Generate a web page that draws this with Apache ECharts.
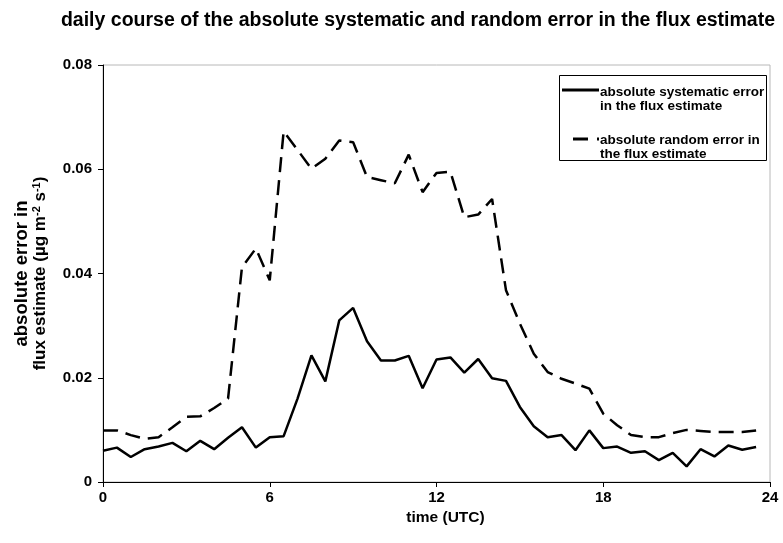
<!DOCTYPE html>
<html>
<head>
<meta charset="utf-8">
<script src="https://cdn.jsdelivr.net/npm/echarts@6/dist/echarts.min.js"></script>
<style>
html,body{margin:0;padding:0;background:#fff;}
#chart{width:783px;height:543px;}
</style>
</head>
<body>
<div id="chart"></div>
<script>
// time of day (UTC), half-hourly
var times = [0,0.5,1,1.5,2,2.5,3,3.5,4,4.5,5,5.5,6,6.5,7,7.5,8,8.5,9,9.5,10,10.5,11,11.5,
             12,12.5,13,13.5,14,14.5,15,15.5,16,16.5,17,17.5,18,18.5,19,19.5,20,20.5,21,21.5,22,22.5,23,23.5];
var systematicError = [0.0060,0.0066,0.0048,0.0063,0.0068,0.0075,0.0059,0.0079,0.0063,0.0085,
                       0.0105,0.0066,0.0086,0.0088,0.0160,0.0243,0.0193,0.0310,0.0334,0.0270,
                       0.0233,0.0233,0.0242,0.0180,0.0235,0.0239,0.0210,0.0236,0.0199,0.0194,
                       0.0144,0.0107,0.0086,0.0090,0.0061,0.0099,0.0065,0.0068,0.0056,0.0059,
                       0.0042,0.0056,0.0030,0.0063,0.0049,0.0070,0.0062,0.0067];
var randomError = [0.0099,0.0099,0.0090,0.0083,0.0086,0.0105,0.0125,0.0126,0.0142,0.0160,
                   0.0412,0.0448,0.0387,0.0673,0.0637,0.0601,0.0620,0.0655,0.0652,0.0585,
                   0.0579,0.0573,0.0628,0.0556,0.0593,0.0595,0.0508,0.0513,0.0543,0.0368,
                   0.0304,0.0246,0.0211,0.0198,0.0189,0.0179,0.0131,0.0109,0.0090,0.0086,
                   0.0086,0.0094,0.0100,0.0098,0.0096,0.0096,0.0096,0.0099];
var seriesNames = ['absolute systematic error in the flux estimate', 'absolute random error in the flux estimate'];
var legendLines = [['absolute systematic error', 'in the flux estimate'], ['absolute random error in', 'the flux estimate']];
var xTicks = [0, 6, 12, 18, 24];
var yTicks = [0, 0.02, 0.04, 0.06, 0.08];

function pairs(xs, ys){ return xs.map(function(x,i){ return [x, ys[i]]; }); }

var FONT = 'Liberation Sans, Arial, sans-serif';
var LEG = {fontFamily: FONT, fontWeight: 'bold', fontSize: 13.5, fill: '#000', textVerticalAlign: 'middle', textAlign: 'left'};
function legText(t, y){ return {type: 'text', left: 600, top: y - 8, style: Object.assign({text: t}, LEG), silent: true}; }

var chart = echarts.init(document.getElementById('chart'), null, {renderer:'canvas'});
chart.setOption({
  backgroundColor: '#fff',
  animation: false,
  title: {
    text: 'daily course of the absolute systematic and random error in the flux estimate',
    left: 413, top: 6, textAlign: 'center',
    textStyle: {fontFamily: FONT, fontWeight: 'bold', fontSize: 19.5, color: '#000'}
  },
  grid: {left: 103, right: 13, top: 65, bottom: 61, show: true, borderColor: '#b8b8b8', borderWidth: 1},
  graphic: [
    {type: 'rect', shape: {x: 559.5, y: 75.5, width: 207, height: 85},
     style: {fill: '#fff', stroke: '#000', lineWidth: 1}, silent: true, z: 0},
    {type: 'line', shape: {x1: 562, y1: 90, x2: 599, y2: 90}, style: {stroke: '#000', lineWidth: 3}, silent: true},
    {type: 'line', shape: {x1: 573, y1: 139, x2: 588, y2: 139}, style: {stroke: '#000', lineWidth: 3}, silent: true},
    {type: 'line', shape: {x1: 597, y1: 139, x2: 599, y2: 139}, style: {stroke: '#000', lineWidth: 3}, silent: true},
    legText(legendLines[0][0], 93), legText(legendLines[0][1], 107),
    legText(legendLines[1][0], 141), legText(legendLines[1][1], 155)
  ],
  xAxis: {
    type: 'value', min: xTicks[0], max: xTicks[xTicks.length-1], interval: 6,
    name: 'time (UTC)', nameLocation: 'middle', nameGap: 27,
    nameTextStyle: {fontFamily: FONT, fontWeight: 'bold', fontSize: 15.5, color: '#000', padding: [0, 0, 0, 18]},
    axisLine: {show: true, lineStyle: {color: '#000', width: 1}},
    axisTick: {show: true, length: 5, lineStyle: {color: '#000'}},
    splitLine: {show: false},
    axisLabel: {margin: 8, fontFamily: FONT, fontWeight: 'bold', fontSize: 15, color: '#000',
      formatter: function(v){ return xTicks.indexOf(v) >= 0 ? String(v) : ''; }}
  },
  yAxis: {
    type: 'value', min: yTicks[0], max: yTicks[yTicks.length-1], interval: 0.02,
    name: '{b|absolute error in}\n{a|flux estimate (µg m}{s|-2}{a| s}{s|-1}{a|)}',
    nameLocation: 'middle', nameGap: 53, nameRotate: 90,
    nameTextStyle: {fontFamily: FONT, fontWeight: 'bold', color: '#000', align: 'center',
      rich: {
        b: {fontFamily: FONT, fontWeight: 'bold', fontSize: 18.5, lineHeight: 19, color: '#000'},
        a: {fontFamily: FONT, fontWeight: 'bold', fontSize: 17, lineHeight: 19, color: '#000'},
        s: {fontFamily: FONT, fontWeight: 'bold', fontSize: 11, lineHeight: 19, verticalAlign: 'top', color: '#000'}
      }},
    axisLine: {show: true, lineStyle: {color: '#000', width: 1}},
    axisTick: {show: true, length: 5, lineStyle: {color: '#000'}},
    splitLine: {show: false},
    axisLabel: {margin: 11, fontFamily: FONT, fontWeight: 'bold', fontSize: 15, color: '#000',
      formatter: function(v){ return v === 0 ? '0' : v.toFixed(2); }}
  },
  series: [
    {name: seriesNames[0], type: 'line', data: pairs(times, systematicError), showSymbol: false, symbol: 'none',
     lineStyle: {color: '#000', width: 2.5, type: 'solid'}, itemStyle: {color: '#000'}},
    {name: seriesNames[1], type: 'line', data: pairs(times, randomError), showSymbol: false, symbol: 'none',
     lineStyle: {color: '#000', width: 2.5, type: [15, 8]}, itemStyle: {color: '#000'}}
  ]
});
</script>
</body>
</html>
